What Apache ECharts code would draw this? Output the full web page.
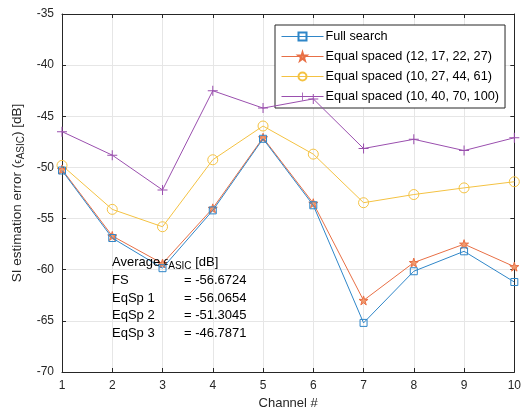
<!DOCTYPE html>
<html><head><meta charset="utf-8">
<script src="https://cdn.jsdelivr.net/npm/echarts@6/dist/echarts.min.js"></script>
<style>html,body{margin:0;padding:0;background:#fff}#c{width:524px;height:415px}</style>
</head><body><div id="c"></div>
<script>
const channels = [1,2,3,4,5,6,7,8,9,10];
const fullSearch = [-50.3,-56.9,-59.85,-54.2,-47.2,-53.7,-65.2,-60.15,-58.2,-61.2];
const eqSp1 = [-50.2,-56.7,-59.4,-54.0,-47.1,-53.5,-63.0,-59.3,-57.5,-59.7];
const eqSp2 = [-49.8,-54.1,-55.8,-49.25,-45.95,-48.7,-53.45,-52.65,-52.0,-51.4];
const eqSp3 = [-46.5,-48.8,-52.2,-42.5,-44.2,-43.3,-48.15,-47.25,-48.35,-47.1];
const seriesNames = ['Full search','Equal spaced (12, 17, 22, 27)','Equal spaced (10, 27, 44, 61)','Equal spaced (10, 40, 70, 100)'];
const avgLabels = ['FS','EqSp 1','EqSp 2','EqSp 3'];
const avgValues = ['-56.6724','-56.0654','-51.3045','-46.7871'];
const yTicks = {min:-70,max:-35,interval:5};

const font = 'Liberation Sans, Arial, Helvetica, sans-serif';
const axisCol = '#262626';
const star = 'path://M50,0 L61,35 L98,35 L68,57 L79,91 L50,70 L21,91 L32,57 L2,35 L39,35 Z';
const plus = 'path://M45,0 H55 V45 H100 V55 H55 V100 H45 V55 H0 V45 H45 Z';
const pair = a => a.map((v,i)=>[channels[i],v]);

const colors = ['#2f86c8','#e86f45','#f4c242','#9a4fae'];
const symbols = ['rect', star, 'circle', plus];
const sizes = [7, 9, 10, 10];
const fills = ['rgba(255,255,255,0)','#f09a6e','rgba(255,255,255,0)', colors[3]];

const chart = echarts.init(document.getElementById('c'), null, {renderer:'canvas'});
const series = [fullSearch, eqSp1, eqSp2, eqSp3].map((d,i)=>({
  name: seriesNames[i], type:'line', data: pair(d),
  symbol: symbols[i], symbolSize: sizes[i], showAllSymbol:true,
  lineStyle:{color:colors[i], width:1},
  itemStyle:{color:fills[i], borderColor:colors[i], borderWidth: i===3?0:1},
  z: 10-i, animation:false
}));

const axisCommon = {
  axisLine:{show:true, lineStyle:{color:axisCol, width:1}},
  axisTick:{show:true, inside:true, length:4, lineStyle:{color:axisCol}},
};
const rich = {
  e:{fontSize:10, fontFamily:font, color:axisCol},
  s:{fontSize:10, fontFamily:font, color:axisCol, padding:[6,0,0,0]}
};
chart.setOption({
  animation:false,
  grid:{left:62, right:8, top:14, bottom:43},
  legend:{
    orient:'vertical', left:275, top:25, data:seriesNames,
    backgroundColor:'#fff', borderColor:axisCol, borderWidth:1, borderRadius:0,
    padding:[5,6,5,6], itemGap:7, itemWidth:42, itemHeight:10,
    lineStyle:{width:1},
    textStyle:{fontFamily:font, fontSize:12.7, color:'#000', padding:[0,0,0,-3]}
  },
  xAxis:[
    Object.assign({type:'value', min:1, max:10, interval:1, position:'bottom',
      name:'Channel #', nameLocation:'middle', nameGap:23,
      nameTextStyle:{fontFamily:font, fontSize:13, color:axisCol},
      axisLabel:{fontFamily:font, fontSize:12, color:axisCol, margin:8},
      splitLine:{show:true, lineStyle:{color:'#e6e6e6'}}}, axisCommon),
    Object.assign({type:'value', min:1, max:10, interval:1, position:'top',
      axisLabel:{show:false}, splitLine:{show:false}}, axisCommon)
  ],
  yAxis:[
    Object.assign({type:'value', min:yTicks.min, max:yTicks.max, interval:yTicks.interval, position:'left',
      name:'SI estimation error ({e|ϵ}{s|ASIC}) [dB]', nameLocation:'middle', nameGap:34,
      nameTextStyle:{fontFamily:font, fontSize:13.5, color:axisCol, rich:rich},
      axisLabel:{fontFamily:font, fontSize:12, color:axisCol, margin:8},
      splitLine:{show:true, lineStyle:{color:'#e6e6e6'}}}, axisCommon),
    Object.assign({type:'value', min:yTicks.min, max:yTicks.max, interval:yTicks.interval, position:'right',
      axisLabel:{show:false}, splitLine:{show:false}}, axisCommon)
  ],
  series: series,
  graphic:[
    {type:'text', left:112, top:256, z:50, style:{
      text:'Average {e|ϵ}{s|ASIC} [dB]', font:'13px '+font, fill:'#000',
      rich:{e:{fontSize:10, fontFamily:font, fill:'#000'}, s:{fontSize:10, fontFamily:font, fill:'#000', padding:[7,0,0,0]}}
    }},
    ...avgLabels.map((l,i)=>({type:'text', left:112, top:274+i*17.5, z:50, style:{text:l, font:'13px '+font, fill:'#000'}})),
    ...avgValues.map((v,i)=>({type:'text', left:184, top:274+i*17.5, z:50, style:{text:'= '+v, font:'13px '+font, fill:'#000'}}))
  ]
});
</script></body></html>
